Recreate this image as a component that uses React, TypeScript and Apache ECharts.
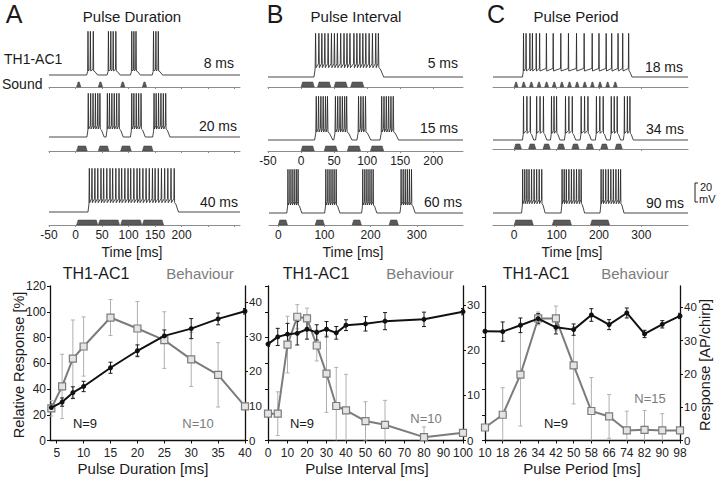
import React, { useEffect, useRef } from "react";
import * as echarts from "echarts";

const FONT = "'Liberation Sans', Arial, Helvetica, sans-serif";

// ---------- Bottom charts: values ----------
const durX = [4, 6, 8, 10, 15, 20, 25, 30, 35, 40];
const durNeuron = [9.5, 11.1, 13.8, 15.6, 21.0, 25.9, 30.2, 32.3, 35.1, 37.3]; // AP/chirp
const durNeuronErr = [1.0, 1.2, 1.7, 1.5, 1.6, 1.7, 1.7, 2.9, 1.7, 0.8];
const durBehav = [25, 42, 63.6, 73, 95.5, 87, 78, 63, 51, 26.5]; // %
const durBehavErr = [6, 25, 30, 23, 14, 21, 22, 21, 25, 0];
const durTicks = [5, 10, 15, 20, 25, 30, 35, 40];

const intX = [0, 5, 10, 15, 20, 25, 30, 35, 40, 50, 60, 80, 100];
const intNeuron = [21.4, 23.0, 23.6, 23.8, 24.7, 24.0, 24.7, 23.9, 25.6, 25.9, 26.5, 26.9, 28.6];
const intNeuronErr = [0.5, 1.9, 2.4, 2.6, 2.2, 1.7, 1.7, 1.4, 1.2, 1.6, 1.9, 1.6, 0.7];
const intBehav = [20.8, 20.8, 74.5, 96.1, 94.8, 73.8, 51.9, 26.8, 23.4, 15.1, 12.2, 2.6, 6.0];
const intBehavErr = [0, 17, 22, 9.4, 8, 12, 30, 30, 28, 15, 19, 8, 0];

const perLabels = ["10", "18", "26", "34", "42", "50", "58", "66", "74", "82", "90", "98"];
const perNeuron = [32.8, 32.7, 34.6, 36.6, 34.0, 33.3, 37.7, 34.8, 38.3, 32.0, 34.9, 37.4];
const perNeuronErr = [0, 2.9, 2.2, 1.5, 2.0, 1.7, 1.9, 1.5, 1.5, 1.1, 1.1, 0.8];
const perBehav = [10.1, 20.0, 51.2, 94.8, 94.8, 58.4, 22.9, 18.7, 7.8, 8.3, 7.8, 7.8];
const perBehavErr = [0, 21, 40, 5, 9.6, 30, 26, 17, 15, 15, 13, 0];

const apTicks = [0, 10, 20, 30, 40];

// ---------- Top traces: spike times (ms), grouped in bursts ----------
const aSpikes8 = [[23.5, 28, 33.5], [62, 66.5, 71, 76], [106, 110, 114], [147, 151.5, 156]];
const aSpikes20 = [
  [24, 28.5, 33, 37.5, 42, 46],
  [60, 64, 68.5, 73, 77.5, 82],
  [106, 110, 114.5, 119, 123.5],
  [148, 152, 156.5, 161, 165.5, 170],
];
const aSpikes40 = [[26, 31, 36.5, 42, 48, 53, 59, 65, 70, 76, 82, 87, 93, 99, 104, 110, 116, 121, 127, 133, 139, 145, 150, 156, 162, 168, 174, 180, 186]];
const bSpikes5 = [[22, 27, 31.5, 36, 41, 46, 50.5, 55, 60, 65, 69.5, 74, 80, 84.5, 89, 93.5, 98, 103, 108, 113, 117]];
const bSpikes15 = [
  [23, 26.5, 30, 33.5, 37, 40],
  [52, 55.5, 59, 62.5, 66, 69],
  [87, 90.5, 94, 97.5],
  [122, 125.5, 129, 132.5, 136, 139.5],
];
const bSpikes60 = [
  [21, 25.5, 30, 34.5, 39, 43],
  [103, 107.5, 112, 116.5, 121, 125.5],
  [183, 187.5, 192, 196.5, 201, 205.5],
  [266, 270.5, 275, 279.5, 284, 288.5],
];
const cSpikes18 = [[22, 28, 37, 43, 52, 60, 76, 92, 110, 128, 147, 165, 184, 200, 217, 230, 245, 256, 270]];
const cSpikes34 = [
  [22, 30, 38], [53, 61, 69], [88, 94, 100], [121, 129, 137],
  [158, 166, 174], [194, 202, 210], [229, 236, 243], [260, 267, 273],
];
const cSpikes90 = [
  [20, 25, 30, 35, 41, 47, 53, 59, 65],
  [113, 118, 123, 129, 135, 141, 147, 153, 158],
  [205, 210, 216, 222, 228, 234, 240, 246, 251],
];
// burst plateau depolarisation (mV)
const plateaus = { a8: 6, a20: 12, a40: 14, b5: 14, b15: 12, b60: 12, c18: 9, c34: 10, c90: 14 };
const PEAK = 46; // spike peak (mV above rest)

// ---------- Sound stimuli: pulse onsets (ms) and durations ----------
const aOnsets = [2, 43, 85, 126];
const aDurations = [8, 20, 40];
const bOnsets5 = [0, 25, 50, 75];
const bOnsets15 = [0, 35, 70, 105];
const bOnsets60 = [0, 80, 160, 240];
const bDuration = 20;
const cOnsets18 = [0, 18, 36, 54, 72, 90, 108, 126, 144, 162, 180, 198, 216, 234];
const cOnsets34 = [0, 34, 68, 102, 136, 170, 204, 238];
const cOnsets90 = [0, 90, 180];
const cDurations = [9, 17, 45];

const timeLabelsA = [-50, 0, 50, 100, 150, 200];
const timeTicksA = [-50, 0, 50, 100, 150, 200, 250, 300];
const timeLabelsB = [-50, 0, 50, 100, 150, 200];
const timeLabelsLong = [0, 100, 200, 300];

function buildWave(bursts: number[][], plateau: number, tMin: number, tMax: number) {
  const pts: number[][] = [[tMin, 0]];
  bursts.forEach((b) => {
    pts.push([b[0] - 2.5, 0]);
    b.forEach((t, i) => {
      pts.push([t - 0.7, i === 0 ? plateau * 0.6 : plateau]);
      pts.push([t, PEAK]);
      pts.push([t + 0.7, plateau * 0.7]);
    });
    const last = b[b.length - 1];
    pts.push([last + 3, plateau * 0.6]);
    pts.push([last + 8, 0]);
  });
  pts.push([tMax, 0]);
  return pts;
}

function buildOption() {
  const grid: any[] = [];
  const xAxis: any[] = [];
  const yAxis: any[] = [];
  const series: any[] = [];
  const graphic: any[] = [];
  const MV = 0.95;
  const Y_MIN = -3;
  const Y_MAX = 48;

  const addTrace = (left: number, width: number, xMin: number, xMax: number, baseline: number, bursts: number[][], plateau: number) => {
    grid.push({ left, width, top: baseline - Y_MAX * MV, height: (Y_MAX - Y_MIN) * MV, containLabel: false, outerBoundsMode: "none" });
    const gi = grid.length - 1;
    xAxis.push({ type: "value", gridIndex: gi, min: xMin, max: xMax, show: false });
    yAxis.push({ type: "value", gridIndex: gi, min: Y_MIN, max: Y_MAX, show: false });
    series.push({
      type: "line",
      xAxisIndex: xAxis.length - 1,
      yAxisIndex: yAxis.length - 1,
      data: buildWave(bursts, plateau, xMin, xMax),
      symbol: "none",
      showSymbol: false,
      silent: true,
      lineStyle: { color: "#262626", width: 0.85 },
      z: 3,
    });
  };

  const addSound = (left: number, width: number, xMin: number, xMax: number, y: number, onsets: number[], dur: number, ticks: number[], labels: number[] | null) => {
    grid.push({ left, width, top: y - 5, height: 5, containLabel: false, outerBoundsMode: "none" });
    const gi = grid.length - 1;
    xAxis.push({
      type: "value",
      gridIndex: gi,
      min: xMin,
      max: xMax,
      position: "bottom",
      axisLine: { show: true, onZero: false, lineStyle: { color: "#8c8c8c", width: 1 } },
      axisTick: { show: true, length: 2, lineStyle: { color: "#8c8c8c" }, customValues: ticks },
      axisLabel: labels
        ? { show: true, customValues: labels, fontSize: 12, color: "#222", margin: 4, fontFamily: FONT }
        : { show: false },
      splitLine: { show: false },
    });
    yAxis.push({ type: "value", gridIndex: gi, min: 0, max: 1, show: false });
    series.push({
      type: "custom",
      xAxisIndex: xAxis.length - 1,
      yAxisIndex: yAxis.length - 1,
      silent: true,
      data: onsets.map((t) => [t, t + dur]),
      encode: { x: [0, 1] },
      renderItem: (params: any, api: any) => {
        const p0 = api.coord([api.value(0), 0]);
        const p1 = api.coord([api.value(1), 1]);
        const r = 1.5;
        return {
          type: "polygon",
          shape: { points: [[p0[0], p0[1]], [p0[0] + r, p1[1]], [p1[0] - r, p1[1]], [p1[0], p0[1]]] },
          style: { fill: "#5a5a5a", stroke: "#3c3c3c", lineWidth: 0.5 },
        };
      },
      z: 4,
    });
  };

  // Panel A traces
  const aL = 49, aW = 191, aMin = -50, aMax = 310;
  addTrace(aL, aW, aMin, aMax, 75, aSpikes8, plateaus.a8);
  addSound(aL, aW, aMin, aMax, 87, aOnsets, aDurations[0], timeTicksA, null);
  addTrace(aL, aW, aMin, aMax, 137, aSpikes20, plateaus.a20);
  addSound(aL, aW, aMin, aMax, 151, aOnsets, aDurations[1], timeTicksA, null);
  addTrace(aL, aW, aMin, aMax, 212, aSpikes40, plateaus.a40);
  addSound(aL, aW, aMin, aMax, 225, aOnsets, aDurations[2], timeTicksA, timeLabelsA);

  // Panel B traces
  const bL = 268, bW = 195, bMin = -50, bMax = 245;
  addTrace(bL, bW, bMin, bMax, 77, bSpikes5, plateaus.b5);
  addSound(bL, bW, bMin, bMax, 87, bOnsets5, bDuration, timeLabelsB, null);
  addTrace(bL, bW, bMin, bMax, 140, bSpikes15, plateaus.b15);
  addSound(bL, bW, bMin, bMax, 151, bOnsets15, bDuration, timeLabelsB, timeLabelsB);
  const b3L = 269, b3W = 194, b3Min = -20, b3Max = 400;
  addTrace(b3L, b3W, b3Min, b3Max, 213, bSpikes60, plateaus.b60);
  addSound(b3L, b3W, b3Min, b3Max, 225, bOnsets60, bDuration, timeLabelsLong, timeLabelsLong);

  // Panel C traces
  const cL = 493, cW = 195, cMin = -50, cMax = 410;
  addTrace(cL, cW, cMin, cMax, 77, cSpikes18, plateaus.c18);
  addSound(cL, cW, cMin, cMax, 87, cOnsets18, cDurations[0], timeLabelsLong, null);
  addTrace(cL, cW, cMin, cMax, 140, cSpikes34, plateaus.c34);
  addSound(cL, cW, cMin, cMax, 149, cOnsets34, cDurations[1], timeLabelsLong, null);
  addTrace(cL, cW, cMin, cMax, 213, cSpikes90, plateaus.c90);
  addSound(cL, cW, cMin, cMax, 225, cOnsets90, cDurations[2], timeLabelsLong, timeLabelsLong);

  // ---------- bottom charts ----------
  const axisLineStyle = { show: true, onZero: false, lineStyle: { color: "#111", width: 1.3 } };
  const lblStyle = { fontSize: 12, color: "#222", fontFamily: FONT };
  const X_MARGIN = 6;

  const errSeries = (xi: number, yi: number, xs: number[], ys: number[], es: number[], color: string) => ({
    type: "custom",
    xAxisIndex: xi,
    yAxisIndex: yi,
    silent: true,
    clip: true,
    data: xs.map((x, i) => [x, ys[i] - es[i], ys[i] + es[i]]).filter((_, i) => es[i] > 0),
    encode: { x: 0, y: [1, 2] },
    renderItem: (params: any, api: any) => {
      const lo = api.coord([api.value(0), api.value(1)]);
      const hi = api.coord([api.value(0), api.value(2)]);
      const w = 2;
      const st = { stroke: color, lineWidth: 1 };
      return {
        type: "group",
        children: [
          { type: "line", shape: { x1: lo[0], y1: lo[1], x2: hi[0], y2: hi[1] }, style: st },
          { type: "line", shape: { x1: lo[0] - w, y1: lo[1], x2: lo[0] + w, y2: lo[1] }, style: st },
          { type: "line", shape: { x1: hi[0] - w, y1: hi[1], x2: hi[0] + w, y2: hi[1] }, style: st },
        ],
      };
    },
    z: 2,
  });

  const addChart = (left: number, xDef: any, apMax: number, pctLabels: boolean, xs: number[], neu: number[], neuErr: number[], beh: number[], behErr: number[]) => {
    grid.push({ left, top: 286, width: 195, height: 154.5, containLabel: false, outerBoundsMode: "none" });
    const gi = grid.length - 1;
    xAxis.push({
      gridIndex: gi,
      position: "bottom",
      axisLine: axisLineStyle,
      axisTick: { show: true, length: 3, lineStyle: { color: "#111" } },
      axisLabel: { ...lblStyle, margin: X_MARGIN },
      splitLine: { show: false },
      ...xDef,
    });
    const xi = xAxis.length - 1;
    yAxis.push({
      type: "value",
      gridIndex: gi,
      position: "left",
      min: 0,
      max: 120,
      interval: 20,
      axisLine: axisLineStyle,
      axisTick: { show: true, length: 3, lineStyle: { color: "#111" } },
      axisLabel: pctLabels ? { ...lblStyle, margin: 4 } : { show: false },
      splitLine: { show: false },
    });
    const pi = yAxis.length - 1;
    const apT = apTicks.filter((v) => v <= apMax);
    yAxis.push({
      type: "value",
      gridIndex: gi,
      position: "right",
      min: 0,
      max: apMax,
      interval: 10,
      axisLine: axisLineStyle,
      axisTick: { show: true, length: 3, lineStyle: { color: "#111" }, customValues: apT },
      axisLabel: { ...lblStyle, fontSize: 11.5, margin: 4, customValues: apT },
      splitLine: { show: false },
    });
    const ai = yAxis.length - 1;
    series.push(errSeries(xi, pi, xs, beh, behErr, "#b0b0b0"));
    series.push({
      type: "line",
      xAxisIndex: xi,
      yAxisIndex: pi,
      data: xs.map((x, i) => [x, beh[i]]),
      symbol: "rect",
      symbolSize: 7,
      lineStyle: { color: "#7c7c7c", width: 2 },
      itemStyle: { color: "#e4e4e4", borderColor: "#7c7c7c", borderWidth: 1.2 },
      z: 3,
    });
    series.push(errSeries(xi, ai, xs, neu, neuErr, "#1a1a1a"));
    series.push({
      type: "line",
      xAxisIndex: xi,
      yAxisIndex: ai,
      data: xs.map((x, i) => [x, neu[i]]),
      symbol: "circle",
      symbolSize: 5,
      lineStyle: { color: "#111", width: 2 },
      itemStyle: { color: "#111" },
      z: 4,
    });
  };

  addChart(
    50,
    { type: "value", min: 3.75, max: 40, axisLabel: { ...lblStyle, margin: X_MARGIN, customValues: durTicks }, axisTick: { show: true, length: 3, lineStyle: { color: "#111" }, customValues: durTicks } },
    44.6, true, durX, durNeuron, durNeuronErr, durBehav, durBehavErr
  );
  addChart(
    268,
    { type: "value", min: 0, max: 100, interval: 10, axisLabel: { ...lblStyle, margin: 6.5 } },
    34.3, false, intX, intNeuron, intNeuronErr, intBehav, intBehavErr
  );
  addChart(
    485,
    { type: "category", data: perLabels, boundaryGap: false, axisTick: { show: true, length: 3, alignWithLabel: true, lineStyle: { color: "#111" } } },
    46.4, false, perLabels.map((_, i) => i), perNeuron, perNeuronErr, perBehav, perBehavErr
  );

  // ---------- texts ----------
  const T = (text: string, x: number, y: number, size: number, o: any = {}) => ({
    type: "text",
    x,
    y,
    rotation: o.rot || 0,
    silent: true,
    z: 10,
    style: {
      text,
      fontSize: size,
      fontFamily: FONT,
      fill: o.color || "#1a1a1a",
      textAlign: o.align || "center",
      textVerticalAlign: "middle",
      align: o.align || "center",
      verticalAlign: "middle",
    },
  });
  const gray = "#7c7c7c";
  graphic.push(
    T("A", 14, 14, 25),
    T("B", 275, 14, 25),
    T("C", 496, 14, 25),
    T("Pulse Duration", 132, 16, 15),
    T("Pulse Interval", 356, 16, 15),
    T("Pulse Period", 576, 16, 15),
    T("TH1-AC1", 4, 59, 14, { align: "left" }),
    T("Sound", 2, 84, 14, { align: "left" }),
    T("8 ms", 234, 63, 14, { align: "right" }),
    T("20 ms", 237, 126, 14, { align: "right" }),
    T("40 ms", 238, 202, 14, { align: "right" }),
    T("5 ms", 458, 63, 14, { align: "right" }),
    T("15 ms", 458, 128, 14, { align: "right" }),
    T("60 ms", 462, 202, 14, { align: "right" }),
    T("18 ms", 683, 67, 14, { align: "right" }),
    T("34 ms", 684, 129, 14, { align: "right" }),
    T("90 ms", 684, 203, 14, { align: "right" }),
    T("Time [ms]", 132, 252, 14),
    T("Time [ms]", 353, 252, 14),
    T("Time [ms]", 572, 252, 14),
    T("20", 700, 187, 11, { align: "left" }),
    T("mV", 699, 199, 11, { align: "left" }),
    T("TH1-AC1", 96, 273, 16),
    T("Behaviour", 200, 273, 15, { color: gray }),
    T("TH1-AC1", 316, 273, 16),
    T("Behaviour", 420, 273, 15, { color: gray }),
    T("TH1-AC1", 536, 273, 16),
    T("Behaviour", 635, 273, 15, { color: gray }),
    T("N=9", 85, 423, 13),
    T("N=10", 198, 423, 13, { color: gray }),
    T("N=9", 302, 423, 13),
    T("N=10", 426, 418, 13, { color: gray }),
    T("N=9", 556, 423, 13),
    T("N=15", 650, 398, 13, { color: gray }),
    T("Relative Response [%]", 19, 365, 14.5, { rot: Math.PI / 2 }),
    T("Response [AP/chirp]", 705, 365, 14.5, { rot: Math.PI / 2 }),
    T("Pulse Duration [ms]", 143, 468, 15),
    T("Pulse Interval [ms]", 367, 468, 15),
    T("Pulse Period [ms]", 582, 468, 15),
    {
      type: "polyline",
      silent: true,
      shape: { points: [[698, 183], [695, 183], [695, 202], [698, 202]] },
      style: { stroke: "#222", lineWidth: 1, fill: null },
    }
  );

  return {
    animation: false,
    backgroundColor: "#ffffff",
    grid,
    xAxis,
    yAxis,
    series,
    graphic,
  };
}

export default function App() {
  const ref = useRef<HTMLDivElement>(null);
  useEffect(() => {
    document.body.style.margin = "0";
    const chart = echarts.init(ref.current as HTMLDivElement, null, { renderer: "svg" });
    chart.setOption(buildOption() as any);
    return () => chart.dispose();
  }, []);
  return <div ref={ref} style={{ width: 720, height: 478, background: "#fff" }} />;
}
